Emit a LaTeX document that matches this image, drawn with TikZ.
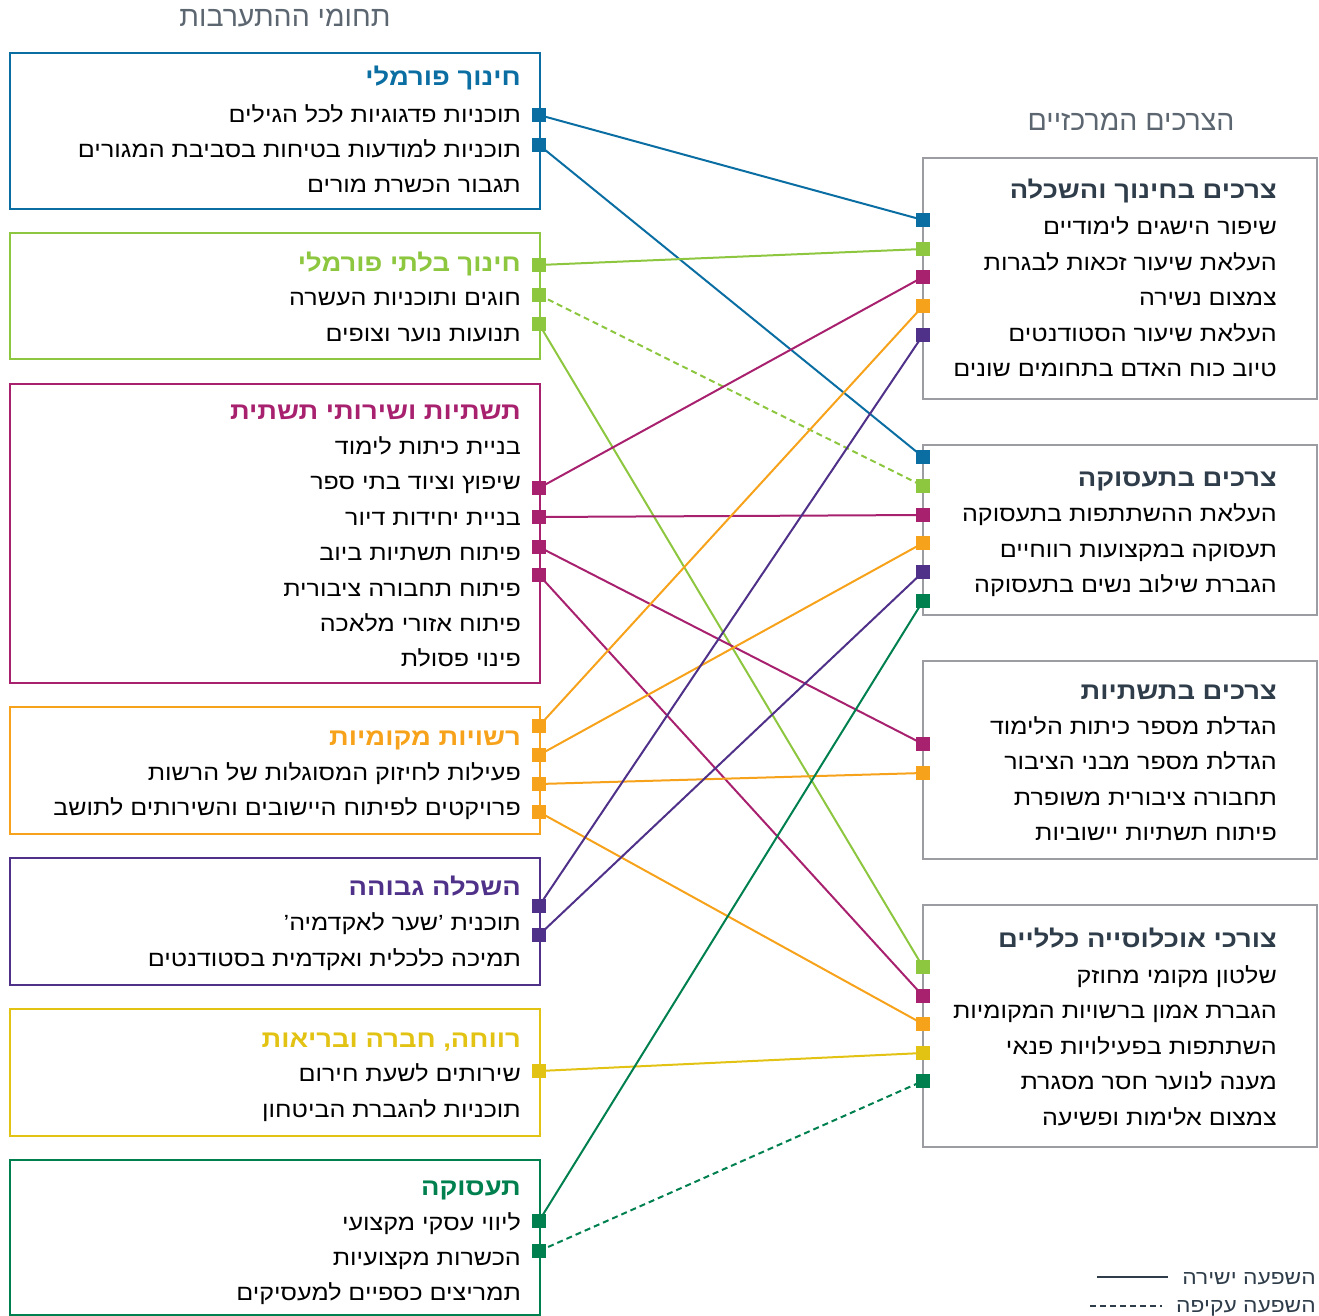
\documentclass[tikz,border=0pt]{standalone}
\usepackage{fontspec}
\TeXXeTstate=1
\newfontfamily\heb[Script=Hebrew, FakeStretch=1.14]{Liberation Sans}
\newfontfamily\hebh[Script=Hebrew]{Liberation Sans}
\usetikzlibrary{backgrounds}
\definecolor{cblue}{HTML}{0A6EA3}
\definecolor{clgreen}{HTML}{8DC63F}
\definecolor{cmag}{HTML}{A8216F}
\definecolor{corange}{HTML}{F7A21B}
\definecolor{cpurple}{HTML}{4F3189}
\definecolor{cyellow}{HTML}{E2C212}
\definecolor{cdgreen}{HTML}{00804F}
\definecolor{cgray}{HTML}{9C9DA3}
\definecolor{ctitle}{HTML}{2F3D4A}
\definecolor{chead}{HTML}{5C6670}
\newcommand{\hebtxt}[1]{\beginR #1\endR}
\tikzset{
  item/.style={anchor=east, inner sep=0pt, text height=16pt, text depth=0pt, font=\heb\fontsize{22pt}{22pt}\selectfont, text=black},
  ttl/.style={anchor=east, inner sep=0pt, text height=18pt, text depth=0pt, font=\heb\bfseries\fontsize{24pt}{24pt}\selectfont, text=#1},
  lbox/.style={draw=#1, line width=2.4pt, anchor=north west, inner sep=0pt, minimum width=530pt},
  rbox/.style={draw=cgray, line width=2.4pt, anchor=north west, inner sep=0pt, minimum width=394pt},
  mk/.style={fill=#1, draw=none, rectangle, minimum size=14pt, inner sep=0pt},
  cn/.style={draw=#1, line width=2pt},
  ind/.style={dash pattern=on 6pt off 4pt},
  head/.style={anchor=center, inner sep=0pt, font=\hebh\fontsize{28.5pt}{28.5pt}\selectfont, text=chead},
  leg/.style={anchor=east, inner sep=0pt, text height=15pt, text depth=0pt, font=\heb\fontsize{20pt}{20pt}\selectfont, text=ctitle},
}
\begin{document}
\begin{tikzpicture}[x=1pt,y=-1pt]
\useasboundingbox (0,0) rectangle (1319,1316);
% headers
\node[head] (h1) at (285,18) {\hebtxt{תחומי ההתערבות}};
\node[head] (h2) at (1131,122) {\hebtxt{הצרכים המרכזיים}};

% ---------- left boxes ----------
\node[lbox=cblue, minimum height=156pt] (B1) at (9,52) {};
\node[ttl=cblue] (B1t) at (521,77) {\hebtxt{חינוך פורמלי}};
\node[item] (B1a) at (521,115) {\hebtxt{תוכניות פדגוגיות לכל הגילים}};
\node[item] (B1b) at (521,150) {\hebtxt{תוכניות למודעות בטיחות בסביבת המגורים}};
\node[item] (B1c) at (521,185) {\hebtxt{תגבור הכשרת מורים}};

\node[lbox=clgreen, minimum height=126pt] (B2) at (9,232) {};
\node[ttl=clgreen] (B2t) at (521,262) {\hebtxt{חינוך בלתי פורמלי}};
\node[item] (B2a) at (521,297) {\hebtxt{חוגים ותוכניות העשרה}};
\node[item] (B2b) at (521,333) {\hebtxt{תנועות נוער וצופים}};

\node[lbox=cmag, minimum height=299pt] (B3) at (9,383) {};
\node[ttl=cmag] (B3t) at (521,410) {\hebtxt{תשתיות ושירותי תשתית}};
\node[item] (B3a) at (521,446) {\hebtxt{בניית כיתות לימוד}};
\node[item] (B3b) at (521,481) {\hebtxt{שיפוץ וציוד בתי ספר}};
\node[item] (B3c) at (521,517) {\hebtxt{בניית יחידות דיור}};
\node[item] (B3d) at (521,552) {\hebtxt{פיתוח תשתיות ביוב}};
\node[item] (B3e) at (521,588) {\hebtxt{פיתוח תחבורה ציבורית}};
\node[item] (B3f) at (521,623) {\hebtxt{פיתוח אזורי מלאכה}};
\node[item] (B3g) at (521,658) {\hebtxt{פינוי פסולת}};

\node[lbox=corange, minimum height=127pt] (B4) at (9,706) {};
\node[ttl=corange] (B4t) at (521,736) {\hebtxt{רשויות מקומיות}};
\node[item] (B4a) at (521,772) {\hebtxt{פעילות לחיזוק המסוגלות של הרשות}};
\node[item] (B4b) at (521,807) {\hebtxt{פרויקטים לפיתוח היישובים והשירותים לתושב}};

\node[lbox=cpurple, minimum height=127pt] (B5) at (9,857) {};
\node[ttl=cpurple] (B5t) at (521,886) {\hebtxt{השכלה גבוהה}};
\node[item] (B5a) at (521,922) {\hebtxt{תוכנית ’שער לאקדמיה’}};
\node[item] (B5b) at (521,958) {\hebtxt{תמיכה כלכלית ואקדמית בסטודנטים}};

\node[lbox=cyellow, minimum height=127pt] (B6) at (9,1008) {};
\node[ttl=cyellow] (B6t) at (521,1038) {\hebtxt{רווחה, חברה ובריאות}};
\node[item] (B6a) at (521,1073) {\hebtxt{שירותים לשעת חירום}};
\node[item] (B6b) at (521,1109) {\hebtxt{תוכניות להגברת הביטחון}};

\node[lbox=cdgreen, minimum height=155pt] (B7) at (9,1159) {};
\node[ttl=cdgreen] (B7t) at (521,1186) {\hebtxt{תעסוקה}};
\node[item] (B7a) at (521,1222) {\hebtxt{ליווי עסקי מקצועי}};
\node[item] (B7b) at (521,1257) {\hebtxt{הכשרות מקצועיות}};
\node[item] (B7c) at (521,1292) {\hebtxt{תמריצים כספיים למעסיקים}};

% ---------- right boxes ----------
\node[rbox, minimum height=241pt] (RA) at (922,157) {};
\node[ttl=ctitle] (RAt) at (1277,190) {\hebtxt{צרכים בחינוך והשכלה}};
\node[item] (RAa) at (1277,226) {\hebtxt{שיפור הישגים לימודיים}};
\node[item] (RAb) at (1277,262) {\hebtxt{העלאת שיעור זכאות לבגרות}};
\node[item] (RAc) at (1277,297) {\hebtxt{צמצום נשירה}};
\node[item] (RAd) at (1277,333) {\hebtxt{העלאת שיעור הסטודנטים}};
\node[item] (RAe) at (1277,368) {\hebtxt{טיוב כוח האדם בתחומים שונים}};

\node[rbox, minimum height=170pt] (RB) at (922,444) {};
\node[ttl=ctitle] (RBt) at (1277,477) {\hebtxt{צרכים בתעסוקה}};
\node[item] (RBa) at (1277,513) {\hebtxt{העלאת ההשתתפות בתעסוקה}};
\node[item] (RBb) at (1277,549) {\hebtxt{תעסוקה במקצועות רווחיים}};
\node[item] (RBc) at (1277,584) {\hebtxt{הגברת שילוב נשים בתעסוקה}};

\node[rbox, minimum height=198pt] (RC) at (922,660) {};
\node[ttl=ctitle] (RCt) at (1277,690) {\hebtxt{צרכים בתשתיות}};
\node[item] (RCa) at (1277,726) {\hebtxt{הגדלת מספר כיתות הלימוד}};
\node[item] (RCb) at (1277,761) {\hebtxt{הגדלת מספר מבני הציבור}};
\node[item] (RCc) at (1277,797) {\hebtxt{תחבורה ציבורית משופרת}};
\node[item] (RCd) at (1277,832) {\hebtxt{פיתוח תשתיות יישוביות}};

\node[rbox, minimum height=242pt] (RD) at (922,904) {};
\node[ttl=ctitle] (RDt) at (1277,938) {\hebtxt{צורכי אוכלוסייה כלליים}};
\node[item] (RDa) at (1277,975) {\hebtxt{שלטון מקומי מחוזק}};
\node[item] (RDb) at (1277,1010) {\hebtxt{הגברת אמון ברשויות המקומיות}};
\node[item] (RDc) at (1277,1046) {\hebtxt{השתתפות בפעילויות פנאי}};
\node[item] (RDd) at (1277,1081) {\hebtxt{מענה לנוער חסר מסגרת}};
\node[item] (RDe) at (1277,1117) {\hebtxt{צמצום אלימות ופשיעה}};

% ---------- markers ----------
\node[mk=cblue] (L1) at (539,115) {};
\node[mk=cblue] (L2) at (539,145) {};
\node[mk=clgreen] (L3) at (539,265) {};
\node[mk=clgreen] (L4) at (539,295) {};
\node[mk=clgreen] (L5) at (539,324) {};
\node[mk=cmag] (L6) at (539,488) {};
\node[mk=cmag] (L7) at (539,517) {};
\node[mk=cmag] (L8) at (539,547) {};
\node[mk=cmag] (L9) at (539,575) {};
\node[mk=corange] (L10) at (539,726) {};
\node[mk=corange] (L11) at (539,755) {};
\node[mk=corange] (L12) at (539,784) {};
\node[mk=corange] (L13) at (539,812) {};
\node[mk=cpurple] (L14) at (539,906) {};
\node[mk=cpurple] (L15) at (539,935) {};
\node[mk=cyellow] (L16) at (539,1071) {};
\node[mk=cdgreen] (L17) at (539,1221) {};
\node[mk=cdgreen] (L18) at (539,1251) {};

\node[mk=cblue] (A1) at (923,220) {};
\node[mk=clgreen] (A2) at (923,249) {};
\node[mk=cmag] (A3) at (923,277) {};
\node[mk=corange] (A4) at (923,306) {};
\node[mk=cpurple] (A5) at (923,335) {};

\node[mk=cblue] (Bm1) at (923,457) {};
\node[mk=clgreen] (Bm2) at (923,486) {};
\node[mk=cmag] (Bm3) at (923,515) {};
\node[mk=corange] (Bm4) at (923,543) {};
\node[mk=cpurple] (Bm5) at (923,572) {};
\node[mk=cdgreen] (Bm6) at (923,601) {};

\node[mk=cmag] (C1) at (923,744) {};
\node[mk=corange] (C2) at (923,773) {};

\node[mk=clgreen] (D1) at (923,967) {};
\node[mk=cmag] (D2) at (923,996) {};
\node[mk=corange] (D3) at (923,1024) {};
\node[mk=cyellow] (D4) at (923,1053) {};
\node[mk=cdgreen] (D5) at (923,1081) {};

% ---------- connectors ----------
\begin{scope}[on background layer]
\draw[cn=cblue] (L1.center) -- (A1.center);
\draw[cn=cblue] (L2.center) -- (Bm1.center);
\draw[cn=clgreen] (L3.center) -- (A2.center);
\draw[cn=clgreen, ind] (L4.center) -- (Bm2.center);
\draw[cn=clgreen] (L5.center) -- (D1.center);
\draw[cn=cmag] (L6.center) -- (A3.center);
\draw[cn=cmag] (L7.center) -- (Bm3.center);
\draw[cn=cmag] (L8.center) -- (C1.center);
\draw[cn=cmag] (L9.center) -- (D2.center);
\draw[cn=corange] (L10.center) -- (A4.center);
\draw[cn=corange] (L11.center) -- (Bm4.center);
\draw[cn=corange] (L12.center) -- (C2.center);
\draw[cn=corange] (L13.center) -- (D3.center);
\draw[cn=cpurple] (L14.center) -- (A5.center);
\draw[cn=cpurple] (L15.center) -- (Bm5.center);
\draw[cn=cyellow] (L16.center) -- (D4.center);
\draw[cn=cdgreen] (L17.center) -- (Bm6.center);
\draw[cn=cdgreen, ind] (L18.center) -- (D5.center);
\end{scope}

% ---------- legend ----------
\node[leg] (lg1) at (1316,1277) {\hebtxt{השפעה ישירה}};
\node[leg] (lg2) at (1316,1305) {\hebtxt{השפעה עקיפה}};
\coordinate (lg1a) at (1097,1277);
\coordinate (lg1b) at (1168,1277);
\coordinate (lg2a) at (1090,1306);
\coordinate (lg2b) at (1162,1306);
\draw[cn=ctitle] (lg1a) -- (lg1b);
\draw[cn=ctitle, ind] (lg2a) -- (lg2b);
\end{tikzpicture}
\end{document}
